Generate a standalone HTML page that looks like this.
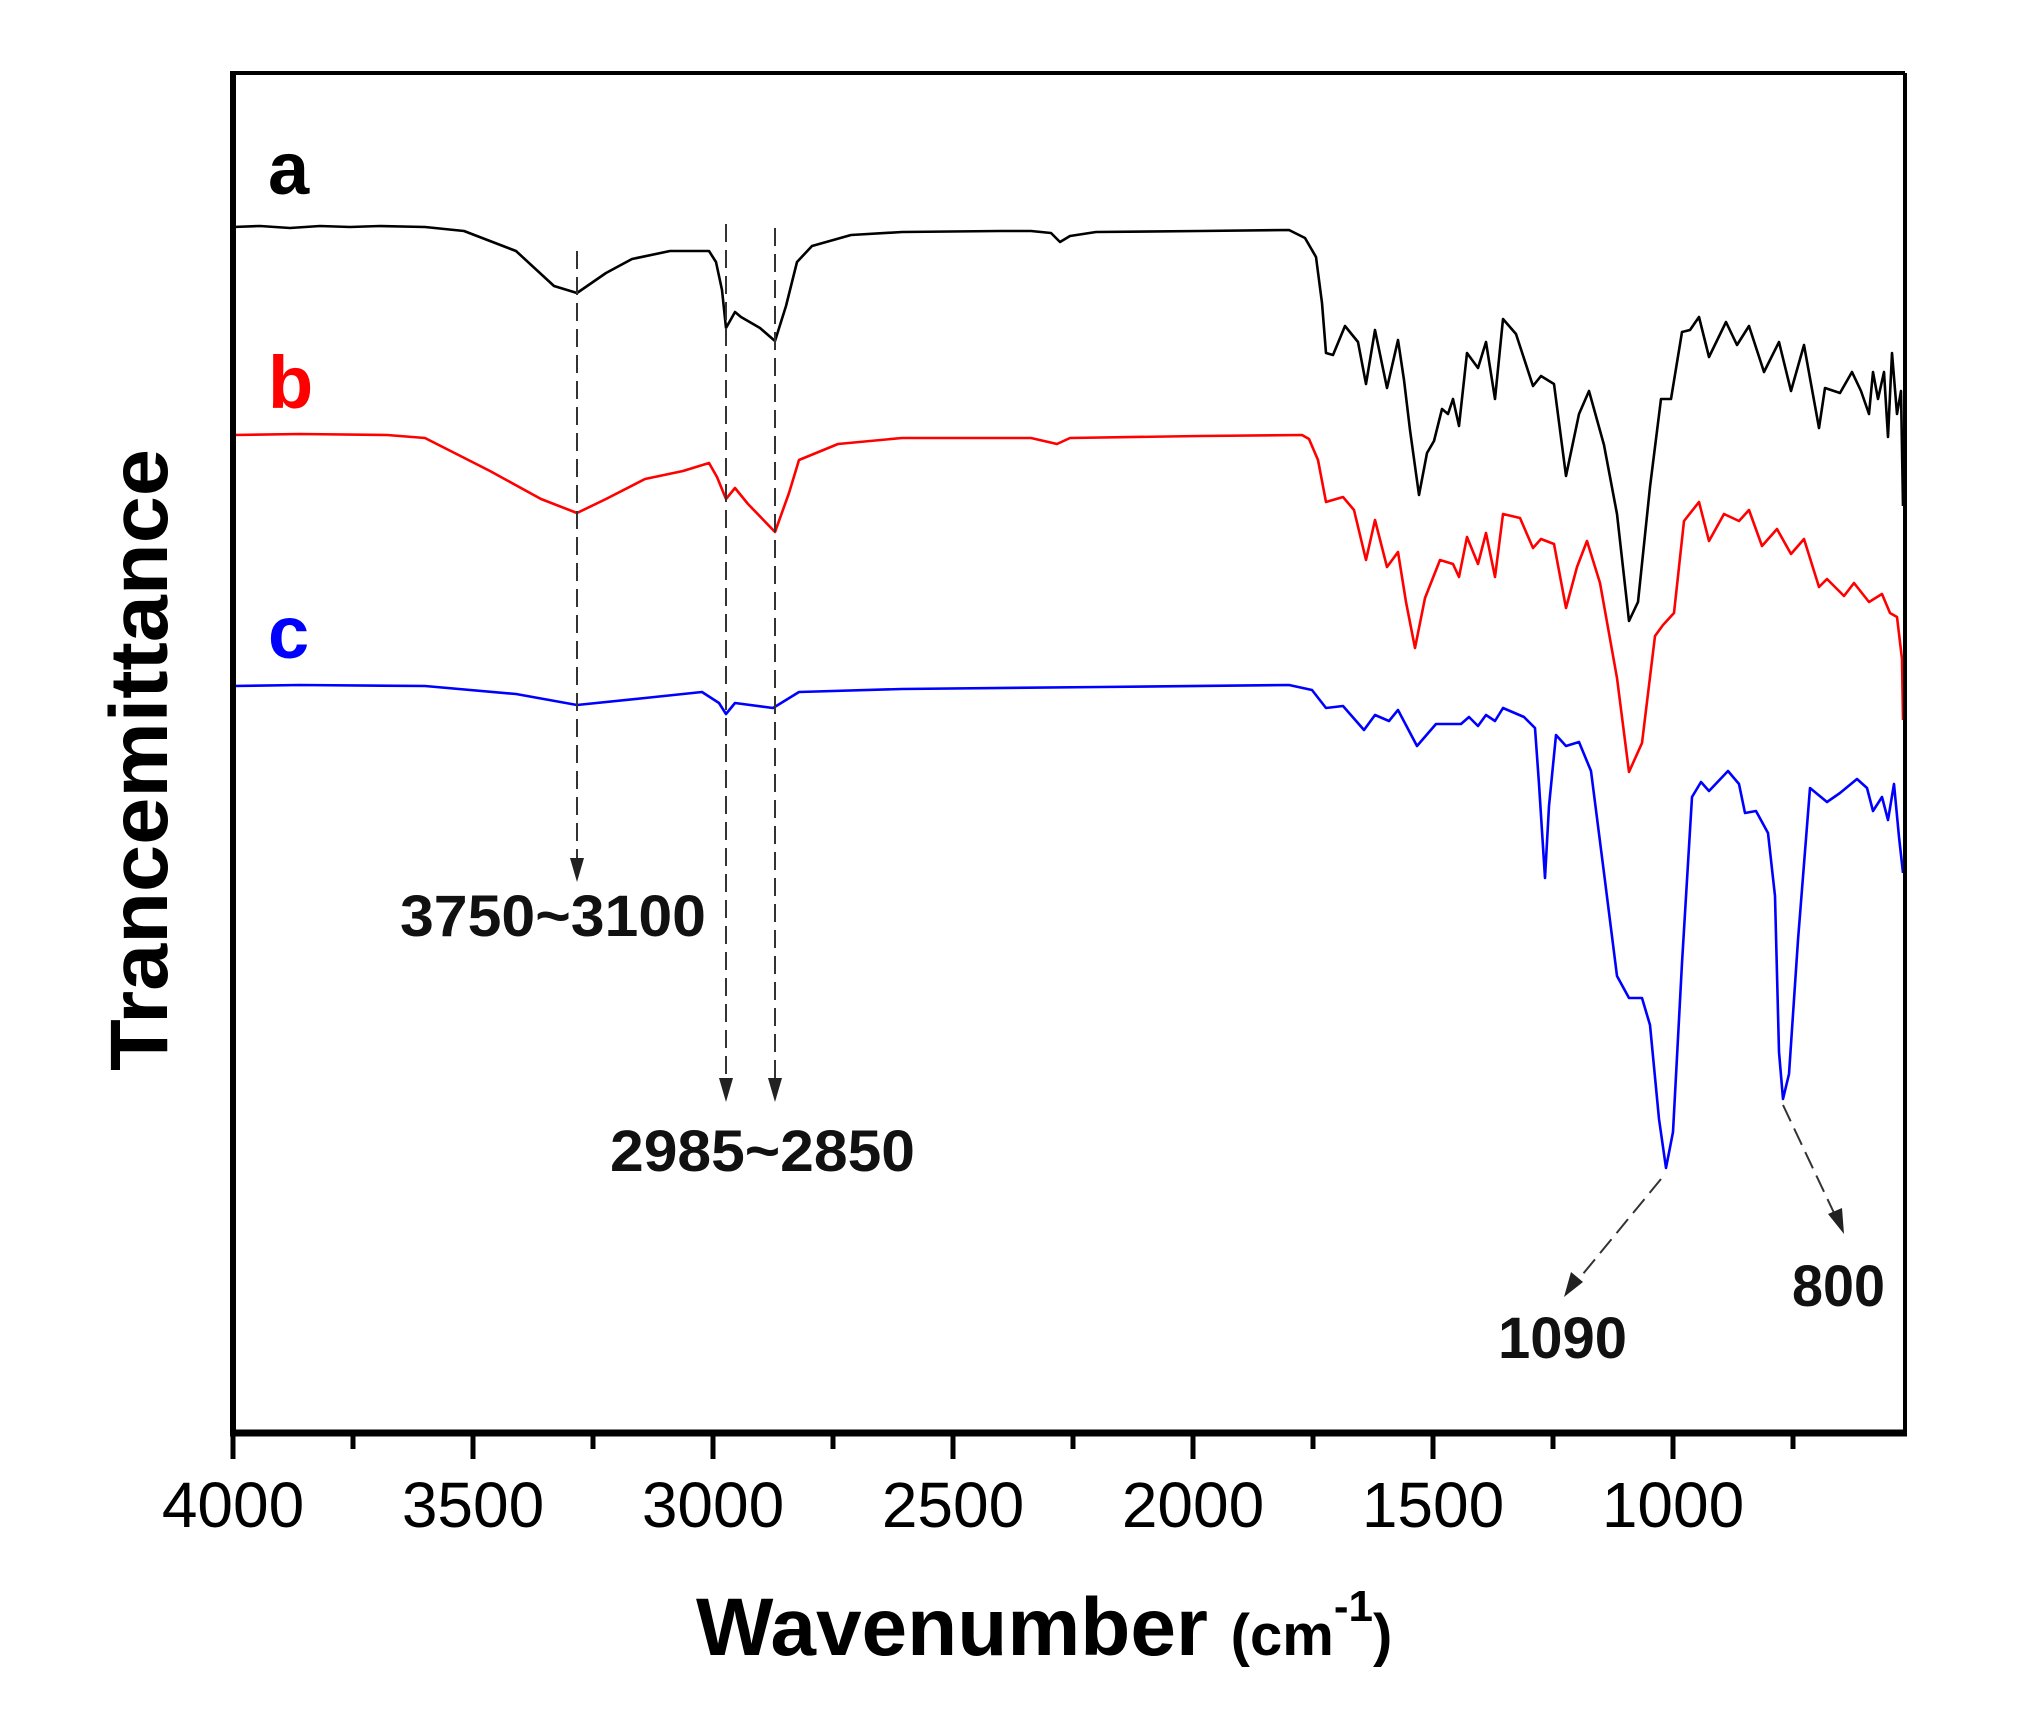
<!DOCTYPE html>
<html><head><meta charset="utf-8"><style>html,body{margin:0;padding:0;background:#fff}svg{display:block}</style></head>
<body>
<svg width="2022" height="1724" viewBox="0 0 2022 1724" xmlns="http://www.w3.org/2000/svg" font-family="'Liberation Sans', Arial, sans-serif">
<rect width="2022" height="1724" fill="#fff"/>
<!-- series -->
<g fill="none" stroke-width="2.6" stroke-linejoin="round">
<polyline stroke="#000" points="233,227 260,226 290,228 320,226 350,227 380,226 425,227 464,231 516,251 554,286 577,293 606,273 632,259 670,251 709,251 716,262 722,290 726,328 735,312 741,317 760,328 775,341 786,306 797,262 812,246 851,235 902,232 1000,231 1031,231 1051,233 1060,242 1070,236 1096,232 1200,231 1289,230 1305,238 1316,257 1322,303 1326,353 1333,355 1345,326 1358,342 1366,384 1375,330 1387,388 1398,340 1404,380 1410,430 1419,495 1427,453 1434,441 1442,409 1448,414 1453,399 1459,426 1467,353 1478,368 1486,342 1495,399 1503,319 1516,334 1533,386 1541,376 1554,384 1566,476 1579,414 1589,391 1604,445 1617,514 1629,621 1638,602 1650,487 1661,399 1671,399 1682,332 1690,330 1699,317 1709,357 1726,322 1737,345 1749,326 1764,372 1779,342 1791,391 1804,345 1819,428 1825,388 1840,393 1852,372 1861,391 1869,414 1873,372 1878,399 1884,372 1888,437 1892,353 1897,414 1901,391 1903,506"/>
<polyline stroke="#ff0000" points="233,435 300,434 387,435 425,438 490,471 541,499 577,513 606,499 645,479 683,471 709,463 717,477 726,499 735,488 748,504 775,532 789,493 799,460 838,444 902,438 1031,438 1057,444 1070,438 1200,436 1302,435 1309,439 1318,460 1326,502 1343,497 1354,510 1366,560 1375,520 1387,567 1398,552 1406,602 1415,648 1425,598 1440,560 1453,564 1459,577 1467,537 1478,564 1486,533 1495,577 1503,514 1520,518 1533,548 1541,539 1554,544 1566,608 1577,567 1587,541 1600,583 1617,678 1629,772 1642,743 1655,636 1663,625 1674,613 1684,521 1699,502 1709,541 1724,514 1739,521 1749,510 1762,546 1777,529 1791,554 1804,539 1819,587 1827,579 1844,596 1854,583 1869,602 1882,594 1890,613 1897,617 1902,659 1903,720"/>
<polyline stroke="#0000ff" points="233,686 300,685 425,686 516,694 577,705 645,698 702,692 719,703 726,714 735,703 773,708 799,692 902,689 1100,687 1289,685 1312,690 1326,708 1343,706 1364,730 1375,715 1389,721 1398,710 1417,746 1436,724 1461,724 1469,717 1478,726 1486,715 1495,721 1503,708 1524,717 1535,728 1539,784 1545,878 1549,806 1556,735 1566,746 1579,742 1591,771 1604,873 1617,976 1629,998 1642,998 1650,1025 1659,1119 1666,1168 1673,1132 1682,963 1692,797 1701,782 1709,791 1728,771 1739,784 1745,813 1756,811 1768,833 1775,896 1779,1052 1783,1099 1789,1074 1798,940 1810,788 1827,802 1840,793 1857,779 1867,788 1873,811 1882,797 1888,820 1894,784 1899,837 1903,873"/>
</g>
<!-- dashed annotation lines -->
<g stroke="#333" stroke-width="2" stroke-dasharray="18,8" fill="none">
<line x1="577" y1="251" x2="577" y2="862"/>
<line x1="726" y1="224" x2="726" y2="1082"/>
<line x1="775" y1="228" x2="775" y2="1082"/>
<line x1="1661" y1="1179" x2="1578" y2="1280"/>
<line x1="1783" y1="1105" x2="1835" y2="1215"/>
</g>
<g fill="#222">
<polygon points="570,858 584,858 577,882"/>
<polygon points="719,1078 733,1078 726,1102"/>
<polygon points="768,1078 782,1078 775,1102"/>
<polygon points="1571,1272 1583,1282 1564,1297"/>
<polygon points="1828,1214 1842,1208 1844,1234"/>
</g>
<!-- axes frame -->
<g stroke="#000" fill="none">
<line x1="233" y1="73" x2="1905" y2="73" stroke-width="4"/>
<line x1="1905" y1="73" x2="1905" y2="1433" stroke-width="4"/>
<line x1="233" y1="71" x2="233" y2="1436" stroke-width="6"/>
<line x1="230" y1="1433" x2="1907" y2="1433" stroke-width="7"/>
<g stroke-width="5">
<line x1="233" y1="1433" x2="233" y2="1459"/><line x1="473" y1="1433" x2="473" y2="1459"/><line x1="713" y1="1433" x2="713" y2="1459"/><line x1="953" y1="1433" x2="953" y2="1459"/><line x1="1193" y1="1433" x2="1193" y2="1459"/><line x1="1433" y1="1433" x2="1433" y2="1459"/><line x1="1673" y1="1433" x2="1673" y2="1459"/>
<line x1="353" y1="1433" x2="353" y2="1449"/><line x1="593" y1="1433" x2="593" y2="1449"/><line x1="833" y1="1433" x2="833" y2="1449"/><line x1="1073" y1="1433" x2="1073" y2="1449"/><line x1="1313" y1="1433" x2="1313" y2="1449"/><line x1="1553" y1="1433" x2="1553" y2="1449"/><line x1="1793" y1="1433" x2="1793" y2="1449"/>
</g>
</g>
<!-- tick labels -->
<g font-size="64" text-anchor="middle" fill="#000">
<text x="233" y="1527">4000</text><text x="473" y="1527">3500</text><text x="713" y="1527">3000</text><text x="953" y="1527">2500</text><text x="1193" y="1527">2000</text><text x="1433" y="1527">1500</text><text x="1673" y="1527">1000</text>
</g>
<!-- axis titles -->
<text x="696" y="1655" font-size="82" font-weight="bold" fill="#000">Wavenumber <tspan font-size="58">(cm</tspan><tspan font-size="44" dy="-34">-1</tspan><tspan font-size="58" dy="34">)</tspan></text>
<text transform="translate(167,760) rotate(-90)" text-anchor="middle" font-size="82" font-weight="bold" fill="#000" textLength="622" lengthAdjust="spacingAndGlyphs">Trancemittance</text>
<!-- series labels -->
<g font-size="74" font-weight="bold">
<text x="268" y="194" fill="#000">a</text>
<text x="268" y="408" fill="#ff0000">b</text>
<text x="268" y="658" fill="#0000ff">c</text>
</g>
<!-- annotations -->
<g font-size="58" font-weight="bold" fill="#111">
<text x="400" y="936" textLength="306" lengthAdjust="spacingAndGlyphs">3750~3100</text>
<text x="610" y="1171" textLength="305" lengthAdjust="spacingAndGlyphs">2985~2850</text>
<text x="1498" y="1358" textLength="129" lengthAdjust="spacingAndGlyphs">1090</text>
<text x="1792" y="1306" textLength="93" lengthAdjust="spacingAndGlyphs">800</text>
</g>
</svg>
</body></html>
